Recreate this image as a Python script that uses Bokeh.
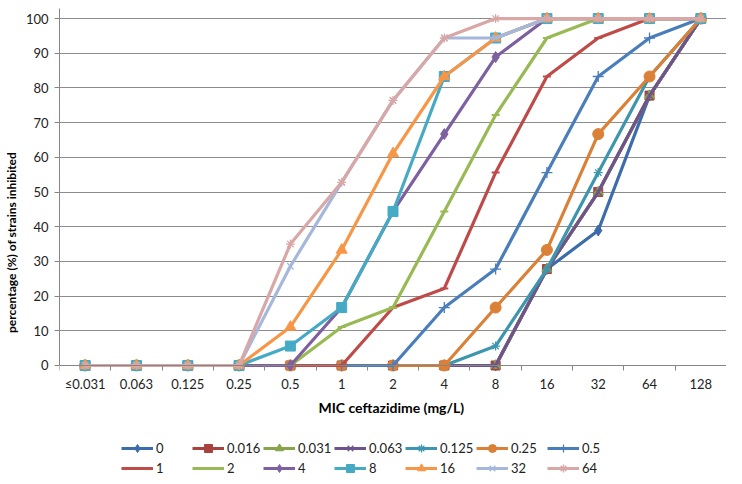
from bokeh.plotting import figure
from bokeh.models import FixedTicker, Legend, LegendItem, Range1d
from bokeh.embed import file_html
from bokeh.resources import INLINE

categories = ["≤0.031", "0.063", "0.125", "0.25", "0.5", "1", "2", "4", "8", "16", "32", "64", "128"]
series_names = ["0", "0.016", "0.031", "0.063", "0.125", "0.25", "0.5",
                "1", "2", "4", "8", "16", "32", "64"]

v_0     = [0, 0, 0, 0, 0, 0, 0, 0, 0, 27.8, 38.9, 77.8, 100]
v_0016  = [0, 0, 0, 0, 0, 0, 0, 0, 0, 27.8, 50.0, 77.8, 100]
v_0031  = [0, 0, 0, 0, 0, 0, 0, 0, 0, 27.8, 50.0, 77.8, 100]
v_0063  = [0, 0, 0, 0, 0, 0, 0, 0, 0, 27.8, 50.0, 77.8, 100]
v_0125  = [0, 0, 0, 0, 0, 0, 0, 0, 5.6, 27.8, 55.6, 83.3, 100]
v_025   = [0, 0, 0, 0, 0, 0, 0, 0, 16.7, 33.3, 66.7, 83.3, 100]
v_05    = [0, 0, 0, 0, 0, 0, 0, 16.7, 27.8, 55.6, 83.3, 94.4, 100]
v_1     = [0, 0, 0, 0, 0, 0, 16.7, 22.2, 55.6, 83.3, 94.4, 100, 100]
v_2     = [0, 0, 0, 0, 0, 11.1, 16.7, 44.4, 72.2, 94.4, 100, 100, 100]
v_4     = [0, 0, 0, 0, 0, 16.7, 44.4, 66.7, 88.9, 100, 100, 100, 100]
v_8     = [0, 0, 0, 0, 5.6, 16.7, 44.4, 83.3, 94.4, 100, 100, 100, 100]
v_16    = [0, 0, 0, 0, 11.1, 33.3, 61.1, 83.3, 94.4, 100, 100, 100, 100]
v_32    = [0, 0, 0, 0, 28.6, 52.8, 76.4, 94.4, 94.4, 100, 100, 100, 100]
v_64    = [0, 0, 0, 0, 35.0, 52.8, 76.4, 94.4, 100, 100, 100, 100, 100]

series_values = [v_0, v_0016, v_0031, v_0063, v_0125, v_025, v_05,
                 v_1, v_2, v_4, v_8, v_16, v_32, v_64]

colors = ["#3D6CAB", "#A8423F", "#86A44A", "#6E548D", "#3D96AE", "#DA8137", "#4A7EBB",
          "#BE4B48", "#98B954", "#7D60A0", "#46AAC5", "#F79646", "#A5B8DB", "#D8A7A6"]
markers = ["diamond", "square", "triangle", "x", "asterisk", "circle", "cross",
           "dash", "dash", "diamond", "square", "triangle", "x", "asterisk"]
msizes = [11, 9, 10, 9, 9, 11, 11, 8, 8, 11, 10, 11, 9, 9]

FONT = "Lato"

xs = [i + 0.5 for i in range(len(categories))]

p = figure(width=726, height=476, output_backend="svg", toolbar_location=None,
           x_range=Range1d(0, len(categories)), y_range=Range1d(-32.0, 102.9),
           min_border_left=50, min_border_right=0, min_border_top=8, min_border_bottom=0)
p.outline_line_color = None
p.background_fill_color = "white"

items = []
for name, vals, col, mk, ms in zip(series_names, series_values, colors, markers, msizes):
    lr = p.line(xs, vals, line_color=col, line_width=3.2)
    if mk in ("x", "asterisk", "cross", "dash"):
        sr = p.scatter(xs, vals, marker=mk, size=ms, line_color=col,
                       line_width=2 if mk == "dash" else 1.3, fill_color=col)
    else:
        sr = p.scatter(xs, vals, marker=mk, size=ms, line_color=col, fill_color=col)
    items.append(LegendItem(label=name, renderers=[lr, sr]))

# y axis
p.yaxis.ticker = FixedTicker(ticks=list(range(0, 101, 10)))
p.yaxis.bounds = (0, 102.9)
p.yaxis.axis_line_color = "#868686"
p.yaxis.major_tick_line_color = "#868686"
p.yaxis.major_tick_out = 5
p.yaxis.major_tick_in = 0
p.yaxis.minor_tick_line_color = None
p.yaxis.major_label_text_font = FONT
p.yaxis.major_label_text_font_size = "13px"
p.yaxis.major_label_text_color = "#222222"
p.yaxis.major_label_standoff = 6
p.yaxis.axis_label = "percentage (%) of strains inhibited"
p.yaxis.axis_label_text_font = FONT
p.yaxis.axis_label_text_font_style = "bold"
p.yaxis.axis_label_text_font_size = "12px"
p.yaxis.axis_label_text_color = "#000000"
p.yaxis.axis_label_standoff = 4

# x axis (drawn at y = 0 inside the frame)
p.xaxis.fixed_location = 0
p.xaxis.ticker = FixedTicker(ticks=xs, minor_ticks=list(range(len(categories) + 1)))
p.xaxis.major_label_overrides = {x: c for x, c in zip(xs, categories)}
p.xaxis.axis_line_color = "#868686"
p.xaxis.major_tick_line_color = None
p.xaxis.major_tick_out = 0
p.xaxis.major_tick_in = 0
p.xaxis.minor_tick_line_color = "#868686"
p.xaxis.minor_tick_out = 5
p.xaxis.minor_tick_in = 0
p.xaxis.major_label_text_font = FONT
p.xaxis.major_label_text_font_size = "13px"
p.xaxis.major_label_text_color = "#222222"
p.xaxis.major_label_standoff = 6
p.xaxis.axis_label = "MIC ceftazidime  (mg/L)"
p.xaxis.axis_label_text_font = FONT
p.xaxis.axis_label_text_font_style = "bold"
p.xaxis.axis_label_text_font_size = "14px"
p.xaxis.axis_label_text_color = "#000000"
p.xaxis.axis_label_standoff = 3

p.xgrid.grid_line_color = None
p.ygrid.ticker = FixedTicker(ticks=list(range(10, 101, 10)))
p.ygrid.grid_line_color = "#8C8C8C"
p.ygrid.grid_line_width = 1

legend = Legend(items=items, location=(62, -2), orientation="horizontal", nrows=2,
                glyph_width=32, glyph_height=20, label_height=20, label_width=36,
                label_standoff=3, spacing=0, padding=0, margin=0,
                label_text_font=FONT, label_text_font_size="13px",
                label_text_color="#222222",
                border_line_color=None, background_fill_alpha=0)
p.add_layout(legend, "center")

open("out.html", "w").write(file_html(p, INLINE))
